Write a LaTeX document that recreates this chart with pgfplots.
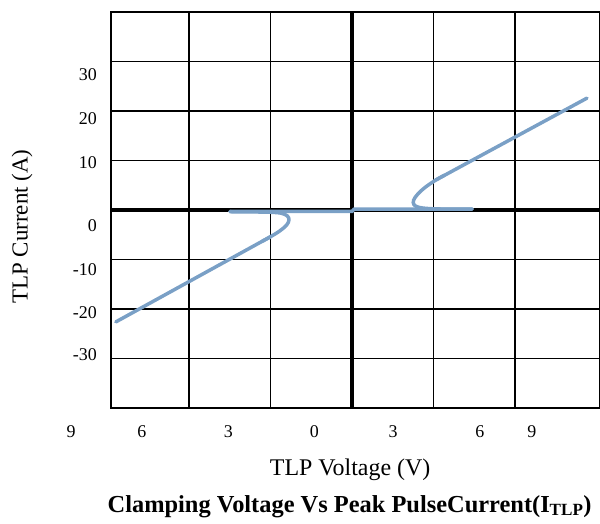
\documentclass[border=0pt]{standalone}
\usepackage{fontspec}
\setmainfont{Liberation Serif}
\usepackage{pgfplots}
\pgfplotsset{compat=1.18}
\definecolor{curve}{RGB}{122,160,198}
\begin{document}
\begin{tikzpicture}
\begin{axis}[
  at={(0,0)}, anchor=south west,
  scale only axis, width=489bp, height=396bp,
  xmin=-8.87, xmax=9.13, ymin=-40, ymax=40,
  clip=false,
  no markers,
  axis line style={black, line width=1.2bp},
  major tick length=0pt, minor tick length=0pt,
  xtick={-7.73,-4.55,-1.38,1.51,4.71,6.62},
  xticklabels={6,3,0,3,6,9},
  ytick={27.3,18.4,9.5,-3.2,-12.1,-20.8,-29.3},
  yticklabels={30,20,10,0,-10,-20,-30},
  minor xtick={-6,-3,3,6},
  minor ytick={-30,-20,-10,10,20,30},
  xminorgrids=true, yminorgrids=true,
  minor grid style={black, line width=1.2bp},
  extra x ticks={0}, extra x tick labels={},
  extra y ticks={0}, extra y tick labels={},
  extra x tick style={xmajorgrids=true, major grid style={black, line width=4.5bp}},
  extra y tick style={ymajorgrids=true, major grid style={black, line width=4.5bp}},
  xticklabel style={anchor=base, inner sep=0pt, yshift=-29bp, font=\fontsize{18}{20}\selectfont},
  yticklabel style={anchor=east, inner sep=0pt, xshift=-14bp, font=\fontsize{18}{20}\selectfont},
  xlabel={TLP Voltage (V)},
  xlabel style={at={(rel axis cs:0.489,0)}, anchor=base, inner sep=0pt, yshift=-67bp, font=\fontsize{24}{28}\selectfont},
  ylabel={TLP Current (A)},
  ylabel style={at={(rel axis cs:0,0.458)}, anchor=center, inner sep=0pt, yshift=89bp, font=\fontsize{23}{26}\selectfont},
  title={\textbf{Clamping Voltage Vs Peak PulseCurrent(I\textsubscript{TLP})}},
  title style={at={(rel axis cs:0.488,0)}, anchor=base, inner sep=0pt, yshift=-110bp, font=\fontsize{24.5}{28}\selectfont},
]
\coordinate (SW) at (rel axis cs:0,0);
\node[anchor=base, inner sep=0pt, font=\fontsize{18}{20}\selectfont] at ([yshift=-29bp]axis cs:-10.34,-40) {9};
% middle horizontal part
\addplot[curve, line width=3.5bp, line join=round, line cap=round] coordinates {
  (-4.49,-0.3) (0,-0.3) (0.08,0.2) (4.42,0.2)
};
% right branch: straight part
\addplot[curve, line width=3.5bp, line cap=round] coordinates {
  (8.65,22.6) (3.1,6.1)
};
% right branch: knee
\addplot[curve, line width=3.5bp, smooth, tension=0.6, line cap=round] coordinates {
  (3.4,7.0) (3.1,6.1) (2.7,4.6) (2.42,3.2) (2.27,2.0) (2.28,1.1)
  (2.45,0.55) (2.8,0.3) (3.3,0.2) (4.42,0.2)
};
% left branch: straight part
\addplot[curve, line width=3.5bp, line cap=round] coordinates {
  (-8.69,-22.6) (-3.0,-5.4)
};
% left branch: knee
\addplot[curve, line width=3.5bp, smooth, tension=0.6, line cap=round] coordinates {
  (-3.3,-6.3) (-3.0,-5.4) (-2.65,-4.2) (-2.4,-3.0) (-2.32,-2.0) (-2.38,-1.2)
  (-2.6,-0.65) (-3.0,-0.45) (-3.5,-0.4) (-4.49,-0.35)
};
\end{axis}
\pgfresetboundingbox
\path[use as bounding box] ([shift={(-111bp,-116bp)}]SW) rectangle ++(600bp,524bp);
\end{tikzpicture}
\end{document}
